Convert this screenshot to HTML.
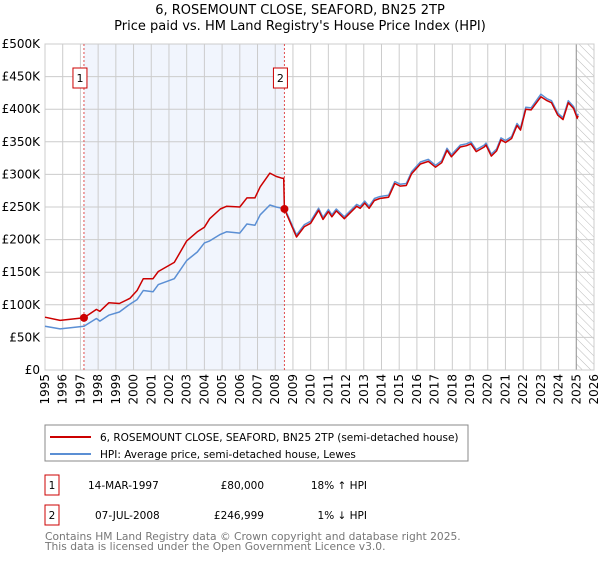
<!DOCTYPE html>
<html><head><meta charset="utf-8"><style>
body{margin:0;background:#fff;font-family:"DejaVu Sans","Liberation Sans",sans-serif;}
svg text{font-family:"DejaVu Sans","Liberation Sans",sans-serif;}
</style></head><body>
<svg id="c" width="600" height="560" xmlns="http://www.w3.org/2000/svg">
<defs><pattern id="hatch" width="6" height="6" patternUnits="userSpaceOnUse" patternTransform="rotate(-45)"><line x1="0" y1="0" x2="0" y2="6" stroke="#bbb" stroke-width="1"/></pattern></defs>
<text x="300" y="14" text-anchor="middle" font-size="13">6, ROSEMOUNT CLOSE, SEAFORD, BN25 2TP</text>
<text x="300" y="30" text-anchor="middle" font-size="13">Price paid vs. HM Land Registry's House Price Index (HPI)</text>
<g id="plot"></g>
<rect x="45" y="425" width="423" height="36" fill="#fff" stroke="#888"/>
<line x1="50" y1="437" x2="91" y2="437" stroke="#cc0000" stroke-width="2"/>
<text x="100" y="441" font-size="10.5">6, ROSEMOUNT CLOSE, SEAFORD, BN25 2TP (semi-detached house)</text>
<line x1="50" y1="454" x2="91" y2="454" stroke="#5b8fd4" stroke-width="2"/>
<text x="100" y="458" font-size="10.5">HPI: Average price, semi-detached house, Lewes</text>
<g font-size="10.5">
<rect x="45" y="475" width="14" height="20" fill="#fff" stroke="#cc0000"/>
<text x="52" y="489" text-anchor="middle">1</text>
<text x="88" y="489">14-MAR-1997</text>
<text x="264" y="489" text-anchor="end">£80,000</text>
<text x="367" y="489" text-anchor="end">18% ↑ HPI</text>
<rect x="45" y="505" width="14" height="20" fill="#fff" stroke="#cc0000"/>
<text x="52" y="519" text-anchor="middle">2</text>
<text x="95" y="519">07-JUL-2008</text>
<text x="264" y="519" text-anchor="end">£246,999</text>
<text x="367" y="519" text-anchor="end">1% ↓ HPI</text>
</g>
<text x="45" y="540" font-size="10.7" fill="#777">Contains HM Land Registry data © Crown copyright and database right 2025.</text>
<text x="45" y="550" font-size="10.7" fill="#777">This data is licensed under the Open Government Licence v3.0.</text>
</svg>
<script>
const dates=[1995.0,1995.85,1996.5,1997.2,1997.9,1998.1,1998.6,1999.2,1999.8,2000.2,2000.55,2001.1,2001.4,2002.3,2003.0,2003.6,2004.0,2004.3,2004.9,2005.25,2006.0,2006.4,2006.85,2007.15,2007.7,2008.05,2008.4,2008.48,2008.52,2009.2,2009.65,2010.0,2010.45,2010.7,2011.0,2011.2,2011.45,2011.9,2012.6,2012.8,2013.05,2013.3,2013.6,2013.9,2014.4,2014.75,2015.05,2015.4,2015.7,2016.2,2016.65,2017.05,2017.4,2017.7,2017.95,2018.45,2018.8,2019.05,2019.35,2019.8,2019.9,2020.2,2020.5,2020.75,2021.0,2021.35,2021.65,2021.85,2022.15,2022.45,2023.0,2023.35,2023.6,2023.95,2024.25,2024.55,2024.85,2025.05,2025.1];
const priceSeries=[81,76,78,80,93,90,103,102,110,122,140,140,151,165,198,212,219,232,247,251,250,264,264,281,302,297,294,294,247,204,220,225,245,231,243,235,244,232,251,248,256,248,260,263,265,286,282,283,301,316,320,311,318,337,327,342,344,347,335,342,345,328,336,353,349,355,375,368,400,399,419,413,410,391,384,410,401,386,390];
const hpiSeries=[67,63,65,67,79,75,84,89,101,108,122,120,131,140,168,181,195,198,208,212,210,224,222,238,253,250,248,248,249,207,223,228,248,234,246,238,247,235,254,251,259,251,263,266,268,289,285,286,304,319,323,314,321,340,330,345,347,350,338,345,348,331,339,356,352,358,378,371,403,402,423,416,413,394,387,413,404,389,393];
const yTicks=[0,50,100,150,200,250,300,350,400,450,500];
const yLabels=["£0","£50K","£100K","£150K","£200K","£250K","£300K","£350K","£400K","£450K","£500K"];
const xYears=[1995,1996,1997,1998,1999,2000,2001,2002,2003,2004,2005,2006,2007,2008,2009,2010,2011,2012,2013,2014,2015,2016,2017,2018,2019,2020,2021,2022,2023,2024,2025,2026];
const saleDates=[1997.2,2008.52];
const saleValues=[80,247];
const saleLabels=["1","2"];
const X0=45,X1=594,Y0=370,Y1=44;
const xs=y=>X0+(y-1995)/(2026-1995)*(X1-X0);
const ys=v=>Y0-v/500*(Y0-Y1);
const NS="http://www.w3.org/2000/svg";
const g=document.getElementById('plot');
function mk(t,a){const e=document.createElementNS(NS,t);for(const k in a)e.setAttribute(k,a[k]);g.appendChild(e);return e;}
let e;
e=mk('rect',{x:xs(saleDates[0]),y:Y1,width:xs(saleDates[1])-xs(saleDates[0]),height:Y0-Y1,fill:'#eef3fd',opacity:0.8});


e=mk('rect',{x:xs(2025.0),y:Y1,width:X1-xs(2025.0),height:Y0-Y1,fill:'url(#hatch)'});


yTicks.forEach((v,i)=>{
 e=mk('line',{x1:X0,x2:X1,y1:ys(v),y2:ys(v),stroke:'#ccc','stroke-width':1});
 
 
 e=mk('text',{x:40,y:ys(v)+4,'text-anchor':'end','font-size':12});
 e.textContent=yLabels[i];
 
 
});
xYears.forEach(yr=>{
 e=mk('line',{x1:xs(yr),x2:xs(yr),y1:Y1,y2:Y0,stroke:'#ccc','stroke-width':1});
 
 
 e=mk('text',{x:0,y:0,'text-anchor':'end','font-size':12,transform:`translate(${xs(yr)+4},374) rotate(-90)`});
 e.textContent=yr;
 
 
});
e=mk('line',{x1:xs(2025.0),x2:xs(2025.0),y1:Y1,y2:Y0,stroke:'#999','stroke-width':1});


e=mk('rect',{x:X0,y:Y1,width:X1-X0,height:Y0-Y1,fill:'none',stroke:'#ccc'});


saleDates.forEach((d,i)=>{
 e=mk('line',{x1:xs(d),x2:xs(d),y1:Y1,y2:Y0,stroke:'#e05050','stroke-width':1,'stroke-dasharray':'2,2'});
 
 
});
function line(vals,col,name){
 const d=dates.map((t,i)=>(i?'L':'M')+xs(t).toFixed(1)+','+ys(vals[i]).toFixed(1)).join('');
 const p=mk('path',{d:d,fill:'none',stroke:col,'stroke-width':1.5,'stroke-linejoin':'round'});
 
 
}
line(hpiSeries,'#5b8fd4','hpi-line');
line(priceSeries,'#cc0000','property-price-line');
saleDates.forEach((d,i)=>{
 e=mk('circle',{cx:xs(d),cy:ys(saleValues[i]),r:4,fill:'#cc0000'});
 
 
 e=mk('rect',{x:xs(d)-11,y:68,width:14,height:20,fill:'#fff',stroke:'#cc0000'});
 
 
 e=mk('text',{x:xs(d)-4,y:82,'text-anchor':'middle','font-size':11});
 e.textContent=saleLabels[i];
 
 
});
</script>
</body></html>
